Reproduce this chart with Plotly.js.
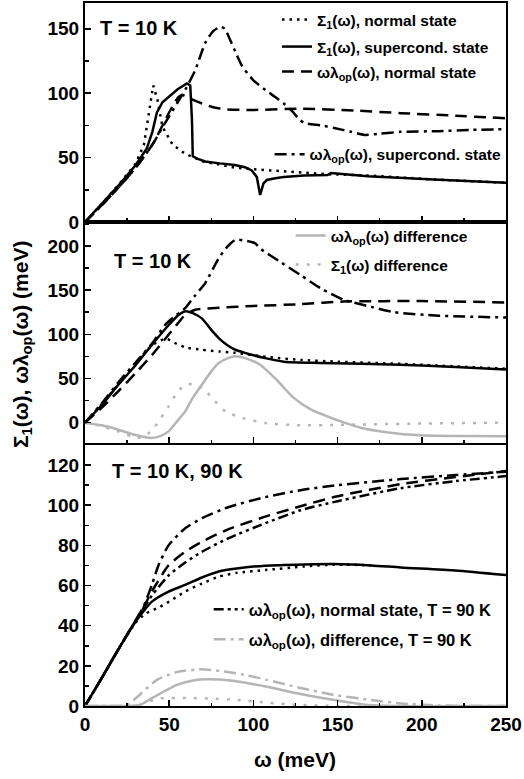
<!DOCTYPE html>
<html>
<head>
<meta charset="utf-8">
<script src="https://cdn.plot.ly/plotly-3.0.1.min.js"></script>
<style>html,body{margin:0;padding:0;background:#fff}#chart{width:524px;height:779px}</style>
</head>
<body>
<div id="chart"></div>
<script>
// ---------- Panel A (top): T = 10 K ----------
const aS1NormalW = [0, 10, 20, 30, 35, 38, 40.5, 43, 46, 52, 59.5, 70, 90, 110, 130, 145, 170, 207, 250];
const aS1NormalV = [0, 14, 29, 45, 60, 85, 106, 95, 74, 60, 53, 47, 42, 40, 38, 37, 36, 33, 30.5];
const aS1ScW = [0, 10, 20, 30, 36.7, 40, 42.7, 46, 50.6, 55, 60.5, 62.5, 63.5, 64, 67, 71.4, 80, 89, 95, 99, 102, 104, 106, 108, 113, 118, 130, 138, 144, 146, 150, 168, 207, 250];
const aS1ScV = [0, 14, 28.5, 44, 57, 70, 85, 93, 98, 103, 107.5, 106, 80, 51, 49, 47, 45.5, 44.3, 42.5, 40, 35, 21, 30, 32.6, 34, 35, 36, 36.5, 36.5, 38, 37.5, 35.5, 33, 30.5];
const aWlNormalW = [0, 10, 20, 30, 40, 47.6, 52, 55.6, 58, 62, 69.4, 75, 83, 100, 128, 160, 187.5, 220, 250];
const aWlNormalV = [0, 13, 27, 42, 60, 79, 90, 97, 98.5, 96, 92, 89.5, 87.5, 87, 88, 86.5, 84.5, 82.5, 80.5];
const aWlScW = [0, 10, 20, 30, 40, 47.6, 54.6, 59.5, 65.5, 71.4, 76, 80.4, 83, 86.3, 90, 93.3, 100, 107, 113, 118, 123, 127, 130, 140, 148, 158, 166, 175, 187.5, 210, 230, 250];
const aWlScV = [0, 13, 27, 42, 60, 77, 92, 102.6, 118, 139, 148, 151.5, 150, 141, 130, 121, 110, 102.6, 97, 92, 86, 80, 77, 75, 73, 70, 67.6, 68.5, 70, 70.5, 71.5, 72];

// ---------- Panel B (middle): T = 10 K ----------
const bS1ScW = [0, 10, 19.8, 30, 39.7, 50, 55, 59.5, 64, 69.4, 75, 79.4, 85, 89.3, 95, 107, 118, 140, 187.5, 220, 250];
const bS1ScV = [0, 20, 43, 65, 88, 111, 121, 126, 124, 118, 105, 95.7, 87, 82.5, 79, 73, 69, 67.5, 65.5, 63, 60];
const bS1NormalW = [0, 10, 20, 30, 40, 48, 54.6, 60, 69.4, 80, 89.3, 110, 128, 150, 187.5, 250];
const bS1NormalV = [0, 21, 44, 67, 88, 95, 89, 85, 82.5, 80.5, 79, 74, 71, 69, 66.5, 61];
const bWlNormalW = [0, 10, 20, 30, 40, 49.6, 55, 59.5, 65.5, 80, 100, 128, 153.6, 200, 250];
const bWlNormalV = [0, 17, 36, 56, 77, 99.4, 112, 122, 127.7, 130, 132, 134, 137, 137.5, 136];
const bWlScW = [0, 10, 20, 30, 40, 47.6, 53, 59.5, 65, 71.4, 79.4, 85, 89.3, 95, 101, 104, 115, 128, 140, 153.6, 170, 183.6, 210, 250];
const bWlScV = [0, 22, 46, 68, 90, 110.7, 120, 129.6, 143, 157.9, 186, 200, 206.8, 206, 203, 197, 183, 167, 152, 139, 131, 125, 121, 119];
const bWlDiffW = [0, 10, 19.8, 30, 39.7, 45, 49.6, 54, 59.5, 64, 69.4, 75, 79.4, 85, 89.3, 95, 104, 114, 124, 134, 144, 154, 163.7, 180, 199, 225, 250];
const bWlDiffV = [0, -3, -8, -14, -17.3, -15, -9.8, 0, 12.8, 28, 43, 58, 67.5, 73, 75, 73, 65.5, 48, 28, 15, 7, 0, -5.7, -11, -14.3, -15.2, -15.4];
const bS1DiffW = [0, 10, 20, 29.8, 35, 40, 45, 49.6, 55, 60, 65, 70, 75.4, 83.3, 93.3, 107, 128, 150, 200, 250];
const bS1DiffV = [0, -4, -10, -17, -16, -8, 5, 18.4, 35, 43.5, 43, 39, 28, 12.8, 5.3, -0.4, -3, -2.5, -1, 0];

// ---------- Panel C (bottom): T = 10 K, 90 K ----------
const cWlScW = [0, 10, 20, 30, 35, 39.7, 43.6, 49.6, 59.5, 69.4, 85, 107, 128, 150, 187.5, 220, 250];
const cWlScV = [0, 14, 28.5, 42.5, 50, 60.3, 70, 80, 88.5, 93.5, 99, 104, 107.5, 110, 113, 115, 116.7];
const cWlNormalW = [0, 10, 20, 30, 35, 39.7, 49.6, 59.5, 69.4, 85, 107, 128, 150, 187.5, 220, 250];
const cWlNormalV = [0, 14, 28.5, 42.5, 49.5, 57, 70, 76.8, 81.8, 88, 94.3, 99.5, 104.5, 110.5, 114, 117];
const cWl90W = [0, 10, 20, 30, 35, 39.7, 49.6, 59.5, 69.4, 85, 107, 128, 150, 187.5, 220, 250];
const cWl90V = [0, 14, 28.5, 42.5, 49, 55, 65, 71.5, 76.8, 83.5, 91, 97.5, 102, 108.5, 112, 114.5];
const cS1ScW = [0, 10, 20, 30, 35, 39.7, 49.6, 59.5, 69.4, 79.4, 90, 107, 130, 148, 170, 187.5, 220, 250];
const cS1ScV = [0, 14, 28.5, 42, 47.5, 52, 57, 60.3, 64, 67, 68.5, 69.9, 70.5, 70.7, 70, 69, 67.5, 65.2];
const cS1NormalW = [0, 10, 20, 30, 36, 43.6, 50, 59.5, 69.4, 79.4, 90, 107, 130, 150, 170];
const cS1NormalV = [0, 14, 28.5, 41.5, 46, 49, 52, 57, 61, 64.4, 66.3, 67.7, 69.5, 70.5, 70];
const cWlDiff90W = [0, 15, 24.8, 33, 42.7, 55, 68.5, 80, 95, 108, 128, 148, 170, 187.5, 210, 250];
const cWlDiff90V = [0, 0, 0.5, 6, 13, 17, 18.3, 17.5, 15.5, 13, 9, 5.5, 3, 1.3, 0.3, 0];
const cWlDiffW = [0, 25, 32.7, 40, 54.6, 65, 72.4, 85, 108, 128, 148, 168, 185, 250];
const cWlDiffV = [0, 0, 0.5, 4, 10.5, 12.8, 13.3, 12.8, 9.6, 6, 3, 0.5, 0, 0];
const cS1DiffW = [0, 30, 37, 45, 60, 75, 90, 110, 128, 150, 250];
const cS1DiffV = [0, 0, 2, 3.8, 4, 3.7, 3, 1.5, 0.5, 0, 0];

// ---------- Text ----------
const legS1Normal = 'Σ<sub>1</sub>(ω), normal state';
const legS1Sc = 'Σ<sub>1</sub>(ω), supercond. state';
const legWlNormal = 'ωλ<sub>op</sub>(ω), normal state';
const legWlSc = 'ωλ<sub>op</sub>(ω), supercond. state';
const legWlDiff = 'ωλ<sub>op</sub>(ω) difference';
const legS1Diff = 'Σ<sub>1</sub>(ω) difference';
const legWl90 = 'ωλ<sub>op</sub>(ω), normal state, T = 90 K';
const legWlDiff90 = 'ωλ<sub>op</sub>(ω), difference, T = 90 K';
const xTitle = 'ω (meV)';
const yTitle = 'Σ<sub>1</sub>(ω), ωλ<sub>op</sub>(ω) (meV)';
const panelLabels = ['T = 10 K', 'T = 10 K', 'T = 10 K, 90 K'];

const BLACK = '#000000', GREY = '#b5b5b5';
const LW = 2.5;
const DOT = '2.5px,5px', DASH = '12px,7px', DASHDOT = '12px,5px,3px,5px', DASHDOTDOT = '10px,4px,3px,4px,3px,4px', GDOT = '3px,8px';

function tr(x, y, ax, color, dash, name, legend, smooth) {
  const t = {
    x: x, y: y, xaxis: ax[0], yaxis: ax[1], type: 'scatter', mode: 'lines',
    line: {color: color, width: LW, dash: dash, shape: smooth ? 'spline' : 'linear', smoothing: 0.6},
    hoverinfo: 'skip', name: name || '', showlegend: !!name
  };
  if (legend) t.legend = legend;
  return t;
}
const A = ['x', 'y'], B = ['x2', 'y2'], C = ['x3', 'y3'];

const data = [
  // panel A
  tr(aS1NormalW, aS1NormalV, A, BLACK, DOT, legS1Normal, 'legend', false),
  tr(aS1ScW, aS1ScV, A, BLACK, 'solid', legS1Sc, 'legend7', false),
  tr(aWlNormalW, aWlNormalV, A, BLACK, DASH, legWlNormal, 'legend8', true),
  tr(aWlScW, aWlScV, A, BLACK, DASHDOT, legWlSc, 'legend2', true),
  // panel B
  tr(bWlDiffW, bWlDiffV, B, GREY, 'solid', legWlDiff, 'legend3', true),
  tr(bS1DiffW, bS1DiffV, B, GREY, GDOT, legS1Diff, 'legend5', true),
  tr(bS1NormalW, bS1NormalV, B, BLACK, DOT, null, null, true),
  tr(bS1ScW, bS1ScV, B, BLACK, 'solid', null, null, true),
  tr(bWlNormalW, bWlNormalV, B, BLACK, DASH, null, null, true),
  tr(bWlScW, bWlScV, B, BLACK, DASHDOT, null, null, true),
  // panel C
  tr(cWlDiffW, cWlDiffV, C, GREY, 'solid', null, null, true),
  tr(cS1DiffW, cS1DiffV, C, GREY, GDOT, null, null, true),
  tr(cS1NormalW, cS1NormalV, C, BLACK, DOT, null, null, true),
  tr(cS1ScW, cS1ScV, C, BLACK, 'solid', null, null, true),
  tr(cWlNormalW, cWlNormalV, C, BLACK, DASH, null, null, true),
  tr(cWlScW, cWlScV, C, BLACK, DASHDOT, null, null, true),
  tr(cWl90W, cWl90V, C, BLACK, DASHDOTDOT, legWl90, 'legend4', true),
  tr(cWlDiff90W, cWlDiff90V, C, GREY, DASHDOT, legWlDiff90, 'legend6', true)
];

const FONT = 'Liberation Sans, Arial, sans-serif';
const TICKFONT = {family: FONT, size: 19, color: BLACK, weight: 'bold'};
function xax(anchor, labels) {
  return {
    anchor: anchor, range: [0, 250], showline: true, linecolor: BLACK, linewidth: 2, mirror: true,
    ticks: 'inside', ticklen: 6, tickwidth: 1.5, tickcolor: BLACK, dtick: 50, tick0: 0,
    minor: {ticks: 'inside', ticklen: 3.5, tickwidth: 1.5, dtick: 25, tickcolor: BLACK},
    showgrid: false, zeroline: false, showticklabels: labels, fixedrange: true,
    tickfont: TICKFONT
  };
}
function yax(anchor, domain, range, dtick, mdtick) {
  return {
    anchor: anchor, domain: domain, range: range, showline: true, linecolor: BLACK, linewidth: 2, mirror: true,
    ticks: 'inside', ticklen: 6, tickwidth: 1.5, tickcolor: BLACK, dtick: dtick, tick0: 0,
    minor: {ticks: 'inside', ticklen: 3.5, tickwidth: 1.5, dtick: mdtick, tickcolor: BLACK},
    showgrid: false, zeroline: false, fixedrange: true,
    tickfont: TICKFONT
  };
}
function leg(x, y, size) {
  return {x: x, y: y, xanchor: 'left', yanchor: 'top', xref: 'paper', yref: 'paper',
    bgcolor: 'rgba(0,0,0,0)', borderwidth: 0, font: {family: FONT, size: size, color: BLACK, weight: 'bold'},
    tracegroupgap: 0, itemwidth: 30, traceorder: 'normal'};
}
function lab(text, xr, yr, x, y) {
  return {text: text, xref: xr, yref: yr, x: x, y: y, xanchor: 'left', yanchor: 'middle',
    showarrow: false, font: {family: FONT, size: 20, color: BLACK, weight: 'bold'}};
}

const layout = {
  width: 524, height: 779,
  margin: {l: 85, r: 18, t: 3, b: 73},
  paper_bgcolor: '#fff', plot_bgcolor: '#fff',
  font: {family: FONT, color: BLACK},
  xaxis: xax('y', false),
  xaxis2: xax('y2', false),
  xaxis3: xax('y3', true),
  yaxis: yax('x', [0.6885, 1], [0, 170], 50, 25),
  yaxis2: yax('x2', [0.3741, 0.6885], [-23, 227], 50, 25),
  yaxis3: yax('x3', [0, 0.3713], [0, 130], 20, 10),
  legend: leg(0.456, 1.0, 15.5),
  legend7: leg(0.456, 0.9616, 15.5),
  legend8: leg(0.456, 0.9260, 15.5),
  legend2: leg(0.4385, 0.8086, 15.5),
  legend3: leg(0.4885, 0.6928, 15.5),
  legend5: leg(0.4885, 0.6516, 15.5),
  legend4: leg(0.2938, 0.1622, 16.5),
  legend6: leg(0.2938, 0.1195, 16.5),
  annotations: [
    lab(panelLabels[0], 'x domain', 'y domain', 0.031, 0.886),
    lab(panelLabels[1], 'x2 domain', 'y2 domain', 0.064, 0.825),
    lab(panelLabels[2], 'x3 domain', 'y3 domain', 0.059, 0.900),
    {text: xTitle, xref: 'paper', yref: 'paper', x: 0.499, y: -0.0754, xanchor: 'center', yanchor: 'middle',
     showarrow: false, font: {family: FONT, size: 21, color: BLACK, weight: 'bold'}},
    {text: yTitle, xref: 'paper', yref: 'paper', x: -0.1496, y: 0.5135, xanchor: 'center', yanchor: 'middle',
     textangle: -90, showarrow: false, font: {family: FONT, size: 21, color: BLACK, weight: 'bold'}}
  ],
  showlegend: true
};

Plotly.newPlot('chart', data, layout, {staticPlot: true, displayModeBar: false});
</script>
</body>
</html>
